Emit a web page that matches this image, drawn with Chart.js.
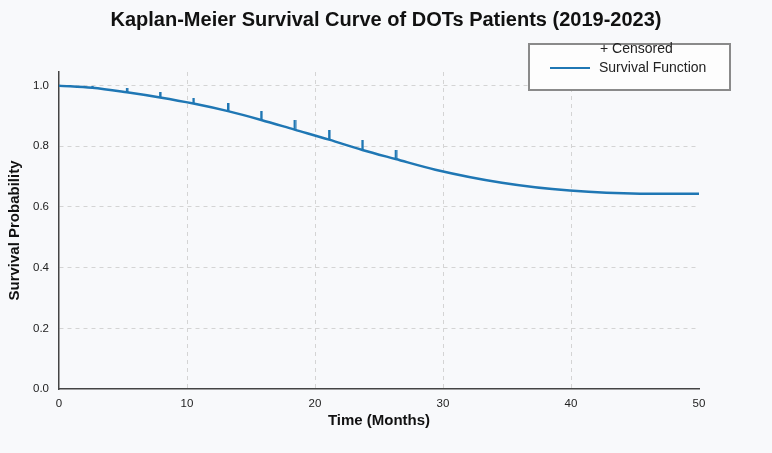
<!DOCTYPE html>
<html>
<head>
<meta charset="utf-8">
<script src="https://cdn.jsdelivr.net/npm/chart.js@4"></script>
<style>
html,body{margin:0;padding:0;background:#f8f9fb;}
#wrap{position:relative;width:772px;height:453px;}
#legend{
position:absolute;left:528px;top:43px;width:199px;height:44px;
border:2px solid #8a8a8a;background:#fdfdfd;
font-family:"Liberation Sans",Arial,sans-serif;font-size:14px;color:#222;
}
#legend .row1{position:absolute;left:70px;top:-5px;}
#legend .row2{position:absolute;left:69px;top:14px;}
#legend .swatch{position:absolute;left:20px;top:22px;width:40px;height:0;border-top:2.5px solid #1f77b4;}
</style>
</head>
<body>
<div id="wrap">
<canvas id="kmChart" width="772" height="453"></canvas>
<div id="legend">
<div class="row1">+ Censored</div>
<span class="swatch"></span>
<div class="row2">Survival Function</div>
</div>
</div>

<script>

// survival curve
const timeMonths = [0, 2.6, 5.3, 7.9, 10.5, 13.2, 15.8, 18.4, 21.1, 23.7, 26.3, 29.4, 34.6, 39.9, 45.4, 50];
const survival   = [1.0, 0.993, 0.978, 0.961, 0.941, 0.916, 0.887, 0.855, 0.822, 0.788, 0.758, 0.723, 0.680, 0.654, 0.644, 0.644];

// censored marks
const censorTimes = [2.6, 5.3, 7.9, 10.5, 13.2, 15.8, 18.4, 21.1, 23.7, 26.3];
const censorSurv  = [0.993, 0.978, 0.961, 0.941, 0.916, 0.887, 0.855, 0.822, 0.788, 0.758];

const xTicks = [0, 10, 20, 30, 40, 50];
const yTicks = [0, 0.2, 0.4, 0.6, 0.8, 1.0];

const blue = "#1f77b4";
const markHeights = [2, 4, 5, 6, 8, 9, 10, 10, 10, 9];


// little upward tick used as the censored marker
function tickMark(h){
const c = document.createElement("canvas");
c.width = 4;
c.height = h * 2;
const g = c.getContext("2d");
g.fillStyle = blue;
g.fillRect(1, 0, 2.5, h);
return c;
}

const markImgs = markHeights.map(tickMark);


Chart.defaults.font.family = '"Liberation Sans", Arial, sans-serif';

const ctx = document.getElementById("kmChart");

new Chart(ctx, {

type: "line",

data: {
datasets: [
{
label: "Survival Function",
data: timeMonths.map((t, i) => ({x: t, y: survival[i]})),
borderColor: blue,
borderWidth: 2.5,
pointRadius: 0,
cubicInterpolationMode: "monotone",
order: 2
},
{
label: "Censored",
data: censorTimes.map((t, i) => ({x: t, y: censorSurv[i]})),
showLine: false,
pointStyle: c => markImgs[c.dataIndex] || markImgs[markImgs.length - 1],
pointRadius: 5,
order: 1
}
]
},

options: {
responsive: false,
animation: false,
layout: {
padding: 0
},
plugins: {
legend: {display: false},
tooltip: {enabled: false},
title: {
display: true,
text: "Kaplan-Meier Survival Curve of DOTs Patients (2019-2023)",
color: "#111",
font: {size: 20, weight: "bold"},
padding: {top: 8, bottom: 40}
}
},
scales: {
x: {
type: "linear",
min: 0,
max: 50,
afterBuildTicks: s => { s.ticks = xTicks.map(v => ({value: v})); },
afterFit: s => { s.height = 64; },
ticks: {
color: "#222",
font: {size: 11.5},
padding: 8
},
grid: {
drawTicks: false,
color: c => (c.tick && c.tick.value > 0 && c.tick.value < 50) ? "#d4d4d4" : "rgba(0,0,0,0)",
lineWidth: 1
},
border: {display: true, color: "#444", width: 1.5, dash: [4, 4]},
title: {
display: true,
text: "Time (Months)",
color: "#111",
font: {size: 15, weight: "bold"},
padding: {top: 0, bottom: 23}
}
},
y: {
min: 0,
max: 1.045,
afterBuildTicks: s => { s.ticks = yTicks.map(v => ({value: v})); },
afterFit: s => { s.width = 59; },
ticks: {
color: "#222",
font: {size: 11.5},
padding: 10,
callback: v => v.toFixed(1)
},
grid: {
drawTicks: false,
color: c => (c.tick && c.tick.value > 0) ? "#d4d4d4" : "rgba(0,0,0,0)",
lineWidth: 1
},
border: {display: true, color: "#444", width: 1.5, dash: [4, 4]},
title: {
display: true,
text: "Survival Probability",
color: "#111",
font: {size: 15, weight: "bold"},
padding: {top: 6, bottom: 0}
}
},
// empty right-hand axis, only to keep the margin on the right
yRight: {
position: "right",
min: 0,
max: 1.045,
afterFit: s => { s.width = 73; },
ticks: {display: false},
grid: {display: false, drawTicks: false},
border: {display: false}
}
}
}

});

</script>
</body>
</html>
